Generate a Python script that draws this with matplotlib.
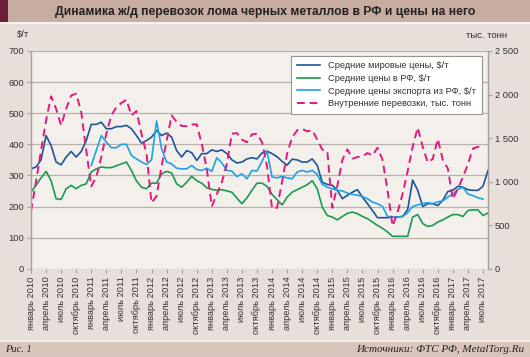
import numpy as np
import matplotlib
matplotlib.use("Agg")
import matplotlib.pyplot as plt
from matplotlib.patches import Rectangle

plt.rcParams['font.family'] = ['Liberation Sans', 'DejaVu Sans']

# monthly data, Jan 2010 .. Aug 2017
world = [321, 327, 350, 428, 396, 343, 334, 359, 377, 359, 377, 412,
         464, 464, 471, 450, 450, 457, 457, 461, 450, 428, 404, 412,
         423, 444, 428, 436, 423, 380, 359, 380, 373, 348, 370, 370,
         382, 377, 382, 370, 350, 340, 343, 353, 357, 353, 372, 378,
         370, 360, 345, 333, 352, 350, 343, 343, 353, 332, 278, 271,
         268, 252, 225, 236, 246, 254, 230, 209, 187, 164, 164, 164,
         166, 166, 168, 190, 285, 252, 200, 209, 209, 203, 220, 248,
         252, 265, 262, 254, 252, 252, 265, 316]
rf = [246, 268, 292, 313, 283, 225, 223, 257, 268, 257, 268, 273,
      311, 321, 327, 325, 325, 331, 337, 343, 316, 282, 262, 257,
      275, 275, 305, 313, 308, 273, 262, 278, 297, 283, 275, 260,
      255, 252, 254, 250, 246, 227, 209, 228, 252, 275, 275, 265,
      239, 222, 205, 230, 246, 254, 262, 270, 283, 257, 198, 171,
      166, 157, 168, 178, 182, 177, 168, 161, 150, 139, 130, 118,
      104, 104, 104, 104, 166, 174, 145, 136, 139, 150, 157, 166,
      174, 174, 168, 187, 189, 189, 171, 179]
# export prices start in Jan 2011 (month 12), end Jul 2017
export = [332, 380, 428, 407, 389, 389, 400, 400, 364, 353, 343, 335,
          350, 475, 386, 343, 337, 323, 321, 321, 332, 319, 316, 323,
          313, 357, 340, 316, 314, 296, 305, 289, 316, 314, 345, 378,
          295, 292, 297, 292, 289, 311, 316, 311, 316, 303, 271, 262,
          257, 252, 250, 243, 239, 236, 232, 225, 214, 209, 200, 168,
          166, 166, 168, 180, 200, 205, 210, 212, 209, 215, 218, 230,
          240, 255, 262, 240, 235, 228, 224]
# rail transport, thousand tonnes, Jan 2010 .. Jul 2017
transport = [660, 1000, 1357, 1703, 1980, 1837, 1645, 1837, 1990, 2008, 1800, 1357,
             945, 1052, 1282, 1550, 1760, 1857, 1904, 1940, 1760, 1811, 1550, 1321,
             757, 832, 1178, 1464, 1760, 1686, 1639, 1636, 1657, 1657, 1435, 1146,
             715, 857, 993, 1203, 1550, 1557, 1482, 1453, 1543, 1550, 1453, 1178,
             690, 700, 1000, 1321, 1510, 1589, 1604, 1578, 1589, 1482, 1368, 1350,
             700, 950, 1250, 1370, 1264, 1282, 1289, 1328, 1300, 1389, 1250, 900,
             490, 650, 860, 1120, 1400, 1620, 1400, 1220, 1260, 1490, 1250, 1150,
             800, 920, 1050, 1200, 1380, 1400, 1360]

month_names = ['январь', 'апрель', 'июль', 'октябрь']
years = list(range(2010, 2018))
labels_right = ['0', '500', '1 000', '1 500', '2 000', '2 500']

x_all = np.arange(len(world))
x_exp = np.arange(12, 12 + len(export))
x_tr = np.arange(len(transport))

tick_pos = list(range(0, 91, 3))
tick_lab = [f"{month_names[(p % 12) // 3]} {years[p // 12]}" for p in tick_pos]

c_world = '#1d5597'
c_rf = '#1a9a52'
c_exp = '#1ea3e3'
c_tr = '#e2197f'
c_txt = '#333333'
c_spine = '#a8a09a'

fig = plt.figure(figsize=(5.3, 3.57), dpi=100)
fig.patch.set_facecolor('#e8dfda')
H = 357.0
W = 530.0
# header and footer bands
fig.patches.append(Rectangle((0, 1 - 22 / H), 1, 22 / H, transform=fig.transFigure,
                             facecolor='#c9aca1', edgecolor='none', zorder=0))
fig.patches.append(Rectangle((0, 1 - 22 / H), 8 / W, 22 / H, transform=fig.transFigure,
                             facecolor='#6b1f38', edgecolor='none', zorder=1))
fig.patches.append(Rectangle((0, 1 - 24 / H), 1, 2 / H, transform=fig.transFigure,
                             facecolor='#f6f2ef', edgecolor='none', zorder=0))
fig.patches.append(Rectangle((0, 0), 1, 15 / H, transform=fig.transFigure,
                             facecolor='#d9c5bc', edgecolor='none', zorder=0))
fig.patches.append(Rectangle((0, 15 / H), 1, 2 / H, transform=fig.transFigure,
                             facecolor='#f6f2ef', edgecolor='none', zorder=0))

fig.text(0.5, 1 - 11.5 / H, 'Динамика ж/д перевозок лома черных металлов в РФ и цены на него',
         ha='center', va='center', fontsize=8.7, fontweight='bold', color='#222222')
fig.text(5 / W, 7.5 / H, 'Рис. 1', ha='left', va='center', fontsize=7.5,
         family=['Liberation Serif', 'DejaVu Serif'], style='italic', color='#222222')
fig.text(524 / W, 7.5 / H, 'Источники: ФТС РФ, MetalTorg.Ru', ha='right', va='center',
         fontsize=8, family=['Liberation Serif', 'DejaVu Serif'], style='italic', color='#222222')
fig.text(17 / W, 1 - 35 / H, '$/т', ha='left', va='center', fontsize=6.8, color=c_txt)
fig.text(507 / W, 1 - 35 / H, 'тыс. тонн', ha='right', va='center', fontsize=6.8, color=c_txt)

ax = fig.add_axes([31 / W, 1 - 268.7 / H, 457 / W, 217.7 / H])
ax.set_facecolor('#f3efeb')
ax2 = ax.twinx()

l1, = ax.plot(x_all, world, color=c_world, lw=1.2, zorder=5)
l2, = ax.plot(x_all, rf, color=c_rf, lw=1.2, zorder=5)
l3, = ax.plot(x_exp, export, color=c_exp, lw=1.2, zorder=5)
l4, = ax2.plot(x_tr, transport, color=c_tr, lw=1.4, dashes=(4, 2.5))

ax.set_xlim(0, 91)
ax.set_ylim(0, 700)
ax2.set_ylim(0, 2500)
ax.set_yticks(range(0, 701, 100))
ax2.set_yticks(range(0, 2501, 500))
ax2.set_yticklabels(labels_right)
ax.set_xticks(tick_pos)
ax.set_xticklabels(tick_lab, rotation=90)

ax.grid(axis='y', color='#b9b1aa', lw=0.9)
ax.set_axisbelow(True)
for a in (ax, ax2):
    for s in a.spines.values():
        s.set_color(c_spine)
        s.set_linewidth(0.9)
    a.spines['top'].set_visible(False)
    a.tick_params(colors=c_spine, labelcolor=c_txt, labelsize=6.7, length=3, width=0.8, pad=2)
ax.spines['bottom'].set_visible(False)
ax2.spines['bottom'].set_visible(False)
ax.tick_params(axis='x', pad=2.5)

leg = ax2.legend([l1, l2, l3, l4],
                 ['Средние мировые цены, $/т', 'Средние цены в РФ, $/т',
                  'Средние цены экспорта из РФ, $/т', 'Внутренние перевозки, тыс. тонн'],
                 loc='upper right', bbox_to_anchor=(0.997, 1.0), fontsize=6.7,
                 frameon=True, fancybox=False, framealpha=1, edgecolor='#9a9490',
                 handlelength=2.5, handletextpad=0.9, labelspacing=0.4, borderpad=0.6)
leg.get_frame().set_linewidth(0.8)
for t in leg.get_texts():
    t.set_color(c_txt)
leg.set_zorder(10)

fig.savefig('out.png', dpi=100, facecolor=fig.get_facecolor())
